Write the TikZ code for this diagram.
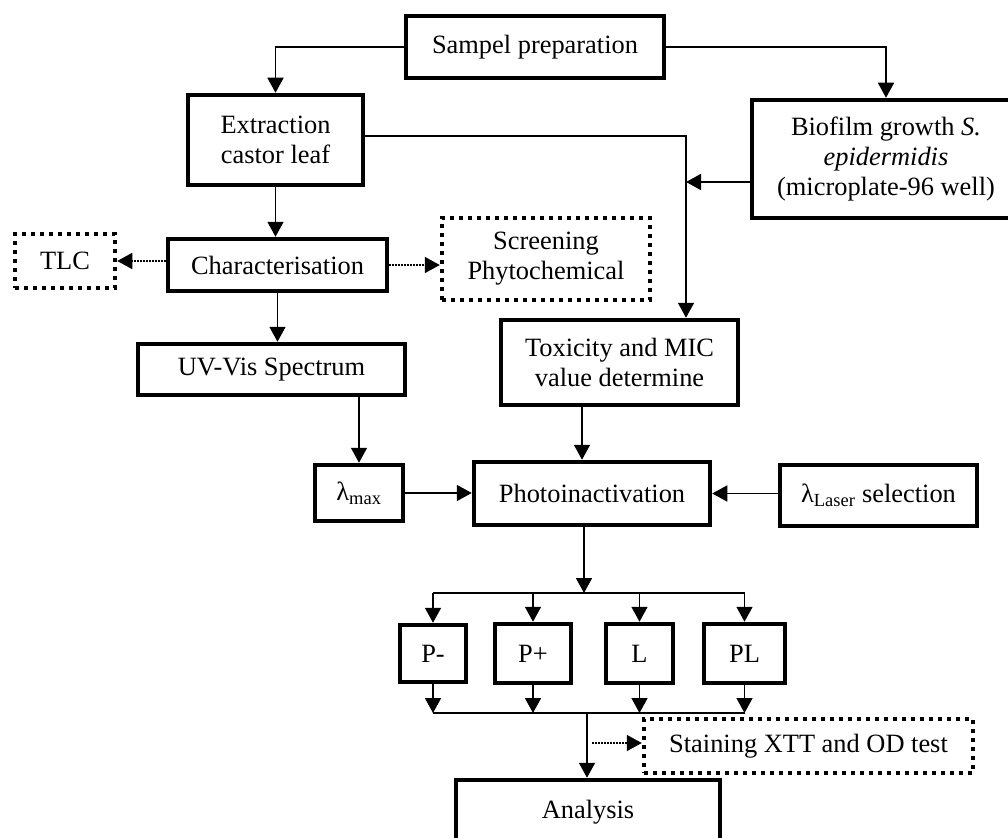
\documentclass[tikz,border=0pt]{standalone}
\usepackage{fontspec}
\setmainfont{Liberation Serif}
\usetikzlibrary{arrows.meta}
\tikzset{
  box/.style={draw, line width=4.5pt, inner sep=2pt, align=center, font=\fontsize{26.4}{30}\selectfont},
  dbox/.style={draw, line width=4.5pt, dash pattern=on 4pt off 5pt, inner sep=2pt, align=center, font=\fontsize{26.4}{30}\selectfont},
  arr/.style={line width=1.6pt, -{Triangle[width=16pt,length=15pt]}},
  darr/.style={line width=1.6pt, dash pattern=on 1.5pt off 1.5pt, -{Triangle[width=16pt,length=15pt]}},
  ln/.style={line width=1.6pt}
}
\begin{document}
\begin{tikzpicture}[x=1pt,y=-1pt]
\useasboundingbox (0,0) rectangle (1008,837);
\clip (0,0) rectangle (1008,837);
% nodes
\node[box, minimum width=258pt, minimum height=62pt] (samp) at (535,47) {Sampel preparation};
\node[box, minimum width=175pt, minimum height=90pt] (ext) at (275.5,140) {Extraction\\castor leaf};
\node[box, minimum width=268pt, minimum height=118pt] (bio) at (886,159) {Biofilm growth \textit{S.}\\\textit{epidermidis}\\(microplate-96 well)};
\node[box, minimum width=219pt, minimum height=52pt] (char) at (277.5,265) {Characterisation};
\node[dbox, minimum width=100pt, minimum height=54pt] (tlc) at (65,261) {TLC};
\node[dbox, minimum width=208pt, minimum height=82pt] (scr) at (546,259) {Screening\\Phytochemical};
\node[box, minimum width=267pt, minimum height=51pt] (uv) at (271.5,369.5) {UV-Vis Spectrum};
\node[box, minimum width=237pt, minimum height=85pt] (tox) at (619.5,362.5) {Toxicity and MIC\\value determine};
\node[box, minimum width=88pt, minimum height=56pt] (lmax) at (359,493) {λ\textsubscript{max}};
\node[box, minimum width=236pt, minimum height=63pt] (photo) at (592,493.5) {Photoinactivation};
\node[box, minimum width=197pt, minimum height=61pt] (laser) at (878.5,495.5) {λ\textsubscript{Laser} selection};
\node[box, minimum width=66pt, minimum height=57pt] (pm) at (433,653.5) {P-};
\node[box, minimum width=76pt, minimum height=59pt] (pp) at (533,653.5) {P+};
\node[box, minimum width=67pt, minimum height=59pt] (l) at (639.5,653.5) {L};
\node[box, minimum width=81pt, minimum height=59pt] (pl) at (744.5,653.5) {PL};
\node[dbox, minimum width=329pt, minimum height=54pt] (stain) at (808.5,746) {Staining XTT and OD test};
\node[box, minimum width=264pt, minimum height=64pt] (ana) at (588,812) {Analysis};
% helper coordinates
\coordinate (j) at (686,136);
\coordinate (jb) at (686,182);
\coordinate (tx) at (582,0);
\coordinate (h) at (584,593);
\coordinate (b) at (587,713);
\coordinate (ds) at (592,743);
% connectors
\draw[arr] (samp.west) -| (ext.north);
\draw[arr] (samp.east) -| (bio.north);
\draw[arr] (ext.east |- j) -- (j) -- (tox.north -| j);
\draw[arr] (bio.west |- jb) -- (jb);
\draw[arr] (ext.south) -- (ext.south |- char.north);
\draw[arr] (char.south) -- (char.south |- uv.north);
\draw[darr] (char.west |- tlc.east) -- (tlc.east);
\draw[darr] (char.east) -- (char.east -| scr.west);
\draw[arr] (uv.south -| lmax.north) -- (lmax.north);
\draw[arr] (lmax.east) -- (lmax.east -| photo.west);
\draw[arr] (tox.south -| tx) -- (photo.north -| tx);
\draw[arr] (laser.west |- photo.east) -- (photo.east);
\draw[arr] (photo.south -| h) -- (h);
\draw[ln] (pm.north |- h) -- (pl.north |- h);
\draw[arr] (pm.north |- h) -- (pm.north);
\draw[arr] (pp.north |- h) -- (pp.north);
\draw[arr] (l.north |- h) -- (l.north);
\draw[arr] (pl.north |- h) -- (pl.north);
\draw[arr] (pm.south) -- (pm.south |- b);
\draw[arr] (pp.south) -- (pp.south |- b);
\draw[arr] (l.south) -- (l.south |- b);
\draw[arr] (pl.south) -- (pl.south |- b);
\draw[ln] (pm.south |- b) -- (pl.south |- b);
\draw[arr] (b) -- (ana.north -| b);
\draw[darr] (ds) -- (stain.west |- ds);
\end{tikzpicture}
\end{document}
